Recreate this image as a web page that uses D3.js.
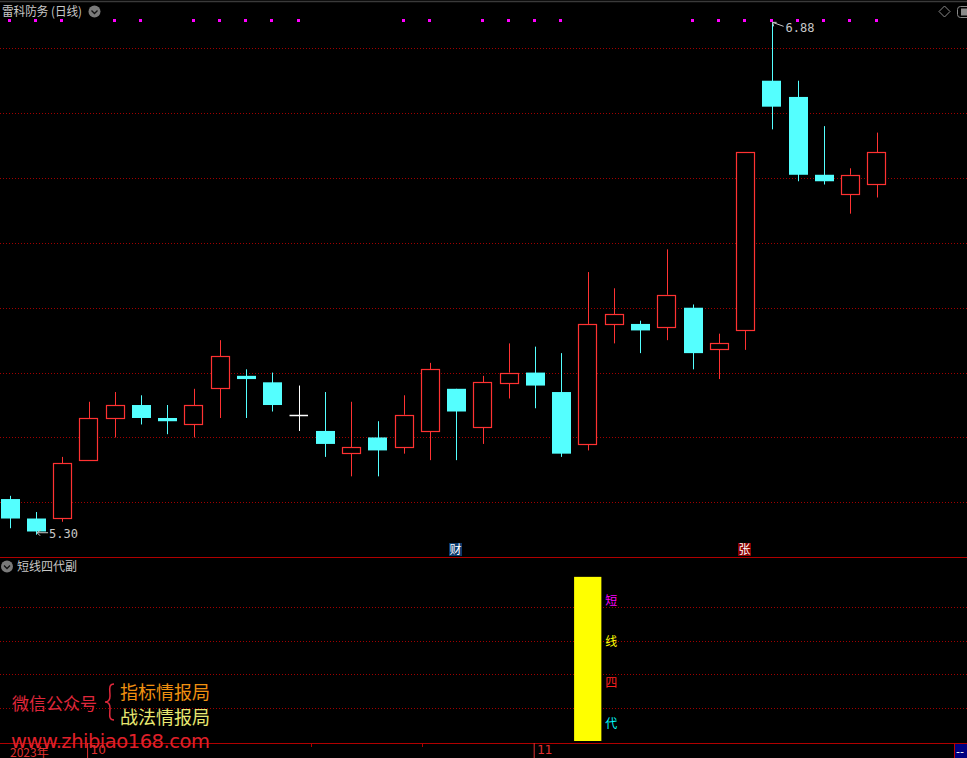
<!DOCTYPE html>
<html><head><meta charset="utf-8">
<script src="https://cdn.jsdelivr.net/npm/d3@7"></script>
<style>html,body{margin:0;padding:0;background:#000;overflow:hidden}svg{display:block}</style>
</head><body><svg id="c" width="967" height="758"></svg>
<script>
// ---- data ----
const opens  = [5.41,5.35,5.35,5.53,5.66,5.70,5.66,5.64,5.75,5.79,5.77,5.67,5.62,5.55,5.60,5.57,5.62,5.75,5.63,5.77,5.80,5.74,5.58,5.95,5.95,5.94,6.00,5.87,5.93,6.70,6.65,6.41,6.35,6.38];
const highs  = [5.42,5.37,5.54,5.71,5.74,5.73,5.70,5.75,5.90,5.81,5.80,5.76,5.74,5.71,5.65,5.73,5.83,5.75,5.79,5.89,5.88,5.86,6.11,6.06,5.96,6.18,6.01,5.92,6.48,6.88,6.70,6.56,6.43,6.54];
const lows   = [5.32,5.30,5.34,5.53,5.60,5.64,5.61,5.60,5.66,5.66,5.68,5.62,5.54,5.48,5.48,5.55,5.53,5.53,5.58,5.72,5.69,5.54,5.56,5.89,5.86,5.90,5.81,5.78,5.87,6.55,6.39,6.38,6.29,6.34];
const closes = [5.35,5.31,5.52,5.66,5.70,5.66,5.65,5.70,5.85,5.78,5.70,5.67,5.58,5.57,5.56,5.67,5.81,5.68,5.77,5.80,5.76,5.55,5.95,5.98,5.93,6.04,5.86,5.89,6.48,6.62,6.41,6.39,6.41,6.48];
const signalDots = [0,1,2,4,5,7,8,9,10,11,15,16,18,19,20,21,26,27,28,29,30,31,32,33];
const priceTicks = [5.4,5.6,5.8,6.0,6.2,6.4,6.6,6.8];
const subTicks = [20,40,60,80];
const subBars = [{i:22, v:98}];
const subLabels = ["短","线","四","代"];
const subLabelValues = [84,60,35,11];
const dateTickIdx = [3,20];
const dateLabels = ["10","11"];
const minorTickIdx = [11.45,15.7];
const eventMarks = [{i:17, t:"财"},{i:28, t:"张"}];
const title = "雷科防务 (日线)";
const subTitle = "短线四代副";
const yearLabel = "2023年";

// ---- drawing ----
const W=967,H=758;
const svg=d3.select("#c");
svg.append("rect").attr("width",W).attr("height",H).attr("fill","#000");
const x=d3.scaleLinear().domain([0,33]).range([9.8,876.7]);
const y=d3.scaleLinear().domain([5.4,6.8]).range([502.3,48.3]);
const ys=d3.scaleLinear().domain([0,100]).range([741,573.5]);
const bw=18.5;
const RED="#ff3232", CYAN="#54ffff", GRID="#a00000";
const font="'Noto Sans CJK SC','Noto Sans',sans-serif";
const px=v=>Math.round(v)+0.5;

// top border
svg.append("line").attr("x1",0).attr("x2",W).attr("y1",1.5).attr("y2",1.5).attr("stroke","#3a3a3a").attr("stroke-width",1.5);

// main grid
svg.append("g").selectAll("line").data(priceTicks).join("line")
  .attr("x1",0).attr("x2",W).attr("y1",d=>px(y(d))).attr("y2",d=>px(y(d)))
  .attr("stroke",GRID).attr("stroke-dasharray","1,2");

// sub grid
svg.append("g").selectAll("line").data(subTicks).join("line")
  .attr("x1",0).attr("x2",W).attr("y1",d=>px(ys(d))).attr("y2",d=>px(ys(d)))
  .attr("stroke",GRID).attr("stroke-dasharray","1,2");

// separators
svg.append("line").attr("x1",0).attr("x2",W).attr("y1",557.5).attr("y2",557.5).attr("stroke","#b00000");
svg.append("line").attr("x1",0).attr("x2",W).attr("y1",743.5).attr("y2",743.5).attr("stroke","#b00000");

// candles
const data=opens.map((o,i)=>({i,o,h:highs[i],l:lows[i],c:closes[i]}));
const cg=svg.append("g");
data.forEach(d=>{
  const cx=px(x(d.i));
  if(d.c>d.o){
    cg.append("line").attr("x1",cx).attr("x2",cx).attr("y1",y(d.h)).attr("y2",y(d.c)).attr("stroke",RED);
    cg.append("line").attr("x1",cx).attr("x2",cx).attr("y1",y(d.o)).attr("y2",y(d.l)).attr("stroke",RED);
    cg.append("rect").attr("x",Math.round(x(d.i)-bw/2)+0.5).attr("y",px(y(d.c))).attr("width",bw-0.5)
      .attr("height",Math.max(1,Math.round(y(d.o)-y(d.c)))).attr("fill","#000").attr("stroke",RED).attr("stroke-width",1.2);
  } else if(d.c<d.o){
    cg.append("line").attr("x1",cx).attr("x2",cx).attr("y1",y(d.h)).attr("y2",y(d.l)).attr("stroke",CYAN);
    cg.append("rect").attr("x",Math.round(x(d.i)-bw/2)).attr("y",y(d.o)).attr("width",bw+0.5)
      .attr("height",Math.max(2,y(d.c)-y(d.o))).attr("fill",CYAN);
  } else {
    cg.append("line").attr("x1",cx).attr("x2",cx).attr("y1",y(d.h)).attr("y2",y(d.l)).attr("stroke","#fff");
    cg.append("line").attr("x1",x(d.i)-bw/2).attr("x2",x(d.i)+bw/2).attr("y1",px(y(d.c))).attr("y2",px(y(d.c))).attr("stroke","#fff").attr("stroke-width",1.5);
  }
});

// signal dots
svg.append("g").selectAll("rect").data(signalDots).join("rect")
  .attr("x",d=>Math.round(x(d))-2).attr("y",19).attr("width",3).attr("height",3).attr("fill","#ff00ff");

// high / low annotations
function annot(i,val,dir){
  const ax=x(i), ay=y(val);
  const g=svg.append("g").attr("stroke","#c8c8c8").attr("fill","none");
  if(dir<0){
    g.append("path").attr("d",`M${ax+1},${ay}L${ax+12},${ay+4}M${ax+1},${ay}l4,0M${ax+1},${ay}l1,4`);
    svg.append("text").attr("x",ax+14).attr("y",ay+10).text(val.toFixed(2))
      .attr("fill","#c8c8c8").attr("font-size",12).attr("font-family","'DejaVu Sans Mono',monospace");
  } else {
    g.append("path").attr("d",`M${ax+1},${ay-2}L${ax+12},${ay-2}M${ax+1},${ay-2}l4,-3M${ax+1},${ay-2}l3,3`);
    svg.append("text").attr("x",ax+13).attr("y",ay+3).text(val.toFixed(2))
      .attr("fill","#c8c8c8").attr("font-size",12).attr("font-family","'DejaVu Sans Mono',monospace");
  }
}
const hiIdx=d3.maxIndex(highs), loIdx=d3.minIndex(lows);
annot(hiIdx,highs[hiIdx],-1);
annot(loIdx,lows[loIdx],1);

// event marks
eventMarks.forEach((m,k)=>{
  const cx=x(m.i);
  svg.append("rect").attr("x",Math.round(cx)-7).attr("y",543).attr("width",13).attr("height",13)
    .attr("fill",m.t==="财"?"#0c3a6c":"#8a0000");
  svg.append("text").attr("x",Math.round(cx)-0.5).attr("y",554).attr("text-anchor","middle")
    .attr("fill","#fff").attr("font-size",12).attr("font-family",font).text(m.t);
});

// titles
svg.append("text").attr("x",2).attr("y",16).attr("fill","#c8c8c8").attr("font-size",12.5).attr("font-family",font).attr("textLength",80).attr("lengthAdjust","spacingAndGlyphs").text(title);
function chevron(cx,cy){
  svg.append("circle").attr("cx",cx).attr("cy",cy).attr("r",6).attr("fill","#7a7a7a");
  svg.append("path").attr("d",`M${cx-3},${cy-1}L${cx},${cy+2}L${cx+3},${cy-1}`).attr("stroke","#111").attr("stroke-width",1.3).attr("fill","none");
}
chevron(94.5,11.5);
svg.append("text").attr("x",17).attr("y",571).attr("fill","#c8c8c8").attr("font-size",12).attr("font-family",font).text(subTitle);
chevron(7,566.5);

// top-right icons
svg.append("path").attr("d","M944.5,6L950,11.5L944.5,17L939,11.5Z").attr("fill","none").attr("stroke","#8a8a8a");
svg.append("rect").attr("x",957.5).attr("y",6.5).attr("width",14).attr("height",11).attr("rx",3).attr("fill","none").attr("stroke","#8a8a8a");
svg.append("rect").attr("x",961).attr("y",8.5).attr("width",8).attr("height",7).attr("fill","#8a8a8a");

// sub indicator
const barW=x(1)-x(0)+1;
svg.append("g").selectAll("rect").data(subBars).join("rect")
  .attr("x",d=>x(d.i)-barW/2).attr("y",d=>ys(d.v)).attr("width",barW).attr("height",d=>ys(0)-ys(d.v)).attr("fill","#ffff00");
const subColors=["#ff00ff","#ffff00","#ff2020","#00ffff"];
svg.append("g").selectAll("text").data(subLabels).join("text")
  .attr("x",x(subBars[0].i)+barW/2+4).attr("y",(d,k)=>ys(subLabelValues[k])+5)
  .attr("fill",(d,k)=>subColors[k]).attr("font-size",12).attr("font-family",font).text(d=>d);

// watermark
svg.append("text").attr("x",12).attr("y",710).attr("fill","#e0283c").attr("font-size",17).attr("font-family",font).text("微信公众号");
svg.append("path").attr("d","M114,684 C108,684 110,690 110,696 C110,700 108,702 105,702 C108,702 110,704 110,708 C110,714 108,720 114,720")
  .attr("fill","none").attr("stroke","#e0283c").attr("stroke-width",1.5);
svg.append("text").attr("x",120).attr("y",699).attr("fill","#f09010").attr("font-size",18).attr("font-family",font).text("指标情报局");
svg.append("text").attr("x",120).attr("y",724).attr("fill","#e8e870").attr("font-size",18).attr("font-family",font).text("战法情报局");
svg.append("text").attr("x",11).attr("y",748).attr("fill","#e0202a").attr("font-size",19.5).attr("font-family","'DejaVu Sans',sans-serif").attr("textLength",199).text("www.zhibiao168.com");

// date axis
const axis=d3.axisBottom(x).tickValues(dateTickIdx).tickSize(15).tickFormat((d,k)=>dateLabels[k]);
const ag=svg.append("g").attr("transform","translate(-1.5,743)").call(axis);
ag.select(".domain").remove();
ag.selectAll(".tick line").attr("stroke","#e03030");
ag.selectAll(".tick text").attr("fill","#e03030").attr("font-size",12).attr("font-family","'DejaVu Sans',sans-serif")
  .attr("text-anchor","start").attr("x",3).attr("y",2).attr("dy","0.75em");
svg.append("g").selectAll("line").data(minorTickIdx).join("line")
  .attr("x1",d=>px(x(d))).attr("x2",d=>px(x(d))).attr("y1",743).attr("y2",747).attr("stroke","#b00000");
svg.append("text").attr("x",10).attr("y",757).attr("fill","#e03030").attr("font-size",12).attr("font-family",font).text(yearLabel);

// bottom-right box
svg.append("line").attr("x1",954.5).attr("x2",954.5).attr("y1",743).attr("y2",758).attr("stroke","#c00000");
svg.append("rect").attr("x",955).attr("y",744).attr("width",12).attr("height",14).attr("fill","#000080");
svg.append("text").attr("x",956).attr("y",755).attr("fill","#fff").attr("font-size",11).attr("font-family","'DejaVu Sans',sans-serif").text("--");
</script></body></html>
